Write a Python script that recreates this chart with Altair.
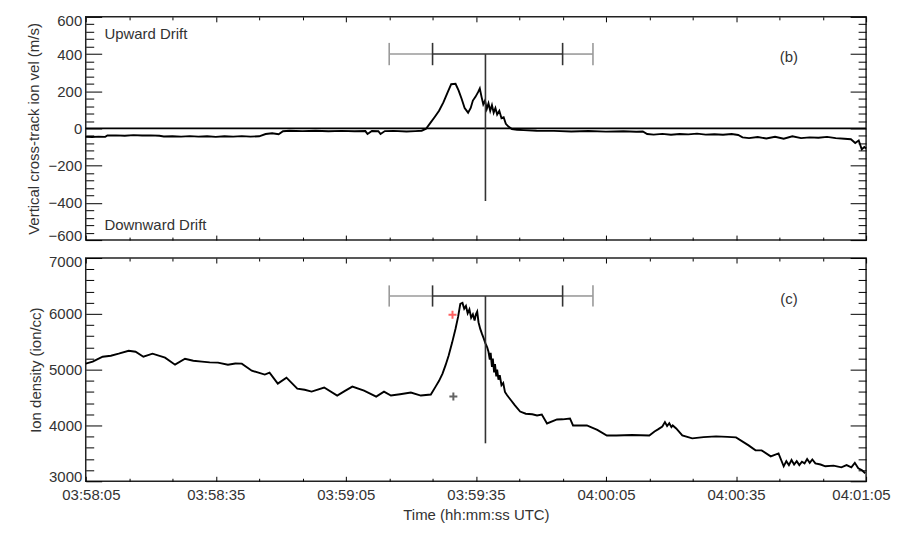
import altair as alt
import pandas as pd

# ---------------- axis tick positions / labels ----------------
x_major = [0, 30, 60, 90, 120, 150, 180]          # seconds after 03:58:05
x_labels = ["03:58:05", "03:58:35", "03:59:05", "03:59:35",
            "04:00:05", "04:00:35", "04:01:05"]
x_minor = [10, 20, 40, 50, 70, 80, 100, 110, 130, 140, 160, 170]

vel_major = [-600, -400, -200, 0, 200, 400, 600]
vel_minor = [-560, -520, -480, -440, -360, -320, -280, -240, -160, -120, -80, -40,
             40, 80, 120, 160, 240, 280, 320, 360, 440, 480, 520, 560]
den_major = [3000, 4000, 5000, 6000, 7000]
den_minor = [3200, 3400, 3600, 3800, 4200, 4400, 4600, 4800, 5200, 5400, 5600, 5800,
             6200, 6400, 6600, 6800]

# ---------------- panel (b): vertical cross-track ion velocity ----------------
vel_t = [0, 1.5, 3, 4.5, 5, 7, 9, 11, 13, 15, 17, 18, 20, 22, 24, 26, 28, 30, 32, 34,
         36, 38, 40, 41.5, 43, 44.5, 45.5, 47, 50, 53, 56, 59, 62, 64.5, 65, 66, 67.5,
         68, 69, 71, 74, 76, 77.5, 78.5, 79.5, 80.5, 81.5, 82.5, 83.5, 84.3, 85.3, 86,
         86.7, 87.4, 88.2, 88.8, 89.3, 89.9, 90.5, 90.9, 91.3, 91.7, 92.1, 92.5, 92.9,
         93.3, 93.7, 94.1, 94.5, 94.9, 95.4, 95.9, 96.4, 96.9, 97.5, 98.3, 99.5, 101,
         104, 108, 112, 116, 120, 124, 127, 128.5, 129.5, 131, 133, 135, 137, 139, 141,
         143, 145, 147, 149, 150.5, 151.5, 153, 155, 157, 159, 161, 163, 165, 167, 169,
         171, 173, 175, 176.5, 177.5, 178.3, 179, 179.6, 180]
vel_v = [-45, -46, -44, -45, -38, -37, -39, -36, -38, -37, -39, -43, -42, -44, -41, -44,
         -42, -45, -42, -44, -41, -44, -42, -30, -26, -31, -15, -12, -14, -12, -15, -13,
         -15, -14, -30, -14, -15, -30, -14, -13, -16, -14, -12, -2, 30, 62, 95, 140, 195,
         238, 240, 205, 160, 110, 85, 110, 150, 170, 195, 215, 170, 130, 150, 105, 135,
         95, 125, 85, 110, 75, 95, 55, 60, 25, 10, -3, -7, -9, -12, -13, -16, -14, -17,
         -15, -18, -16, -30, -33, -29, -34, -30, -32, -28, -33, -31, -34, -30, -35, -48,
         -52, -46, -54, -45, -55, -42, -52, -48, -50, -45, -52, -55, -58, -78, -65, -112,
         -100, -108]

# ---------------- panel (c): ion density ----------------
den_t = [0, 1.6, 3.9, 5.8, 7.6, 9.9, 11.5, 13.3, 15.4, 18.3, 20.6, 22.9, 24.8, 26.8,
         28.6, 30.5, 32.8, 34.5, 36.0, 38.3, 41.3, 42.4, 44.3, 46.3, 48.8, 50.5, 52.1,
         55.0, 58.0, 59.8, 61.5, 64.2, 67.0, 68.8, 70.4, 72.5, 75.0, 77.3, 79.6, 80.7,
         81.5, 82.3, 83.0, 83.7, 84.5, 85.3, 85.9, 86.4, 86.9, 87.3, 87.7, 88.1, 88.5,
         88.9, 89.3, 89.7, 90.0, 90.3, 90.6, 91.0, 91.4, 91.8, 92.2, 92.6, 92.9, 93.2,
         93.4, 93.7, 93.9, 94.2, 94.4, 94.7, 94.9, 95.2, 95.5, 95.9, 96.3, 96.7, 97.2,
         98.0, 99.0, 100.2, 101.5, 103.0, 104.1, 105.2, 106.4, 108.7, 110.0, 111.7,
         112.4, 115.6, 118.0, 120.2, 122.4, 126.0, 130.0, 131.2, 132.0, 133.0, 133.6,
         134.1, 134.6, 135.1, 135.4, 136.2, 137.6, 139.9, 142.5, 145.4, 148.0, 150.0,
         152.9, 154.5, 155.9, 158.0, 159.8, 161.0, 161.6, 162.2, 162.8, 163.4, 164.0,
         164.6, 165.2, 165.8, 166.4, 167.0, 167.6, 168.3, 169.5, 170.6, 172.5, 174.3,
         175.5, 176.6, 177.4, 178.2, 179.0, 179.8]
den_v = [5107, 5143, 5232, 5250, 5286, 5339, 5321, 5232, 5286, 5214, 5089, 5196, 5160,
         5143, 5130, 5125, 5089, 5110, 5107, 4982, 4911, 4946, 4750, 4857, 4661, 4640,
         4607, 4679, 4536, 4620, 4696, 4625, 4518, 4607, 4536, 4560, 4589, 4536, 4554,
         4696, 4800, 4929, 5080, 5250, 5480, 5732, 5950, 6179, 6196, 6090, 6140, 6010,
         6080, 5930, 5990, 5880, 5990, 6040, 5850, 5730, 5640, 5560, 5470, 5400, 5320,
         5180, 5300, 5050, 5200, 4950, 5100, 4880, 5000, 4820, 4900, 4720, 4760, 4600,
         4540, 4460, 4360, 4250, 4210, 4200, 4179, 4196, 4036, 4107, 4110, 4125, 4000,
         4000, 3920, 3821, 3821, 3830, 3821, 3893, 3930, 3982, 4060, 3990, 4040,
         3970, 4000, 3946, 3821, 3768, 3790, 3804, 3795, 3786,
         3643, 3554, 3554, 3446, 3500, 3268, 3360, 3290, 3380, 3300, 3360,
         3290, 3350, 3320, 3400, 3330, 3390, 3321, 3300, 3268, 3280, 3250,
         3290, 3250, 3330, 3232, 3200, 3143]

# ---------------- error-bar style markers (seconds / values) ----------------
bar_outer = [70, 117]
bar_inner = [80, 110]
bar_center = 92.2
vel_bar = {"y": 400, "bottom": -390, "cap": 60}
den_bar = {"y": 6320, "bottom": 3680, "cap": 190}

plus_t = [84.6, 84.8]
plus_v = [5982, 4518]
plus_color = ["#ff2020", "#222222"]

FONT = "Liberation Sans"
TXT = "#333333"
GRAY = "#9a9a9a"
DARK = "#333333"
PLOT_W = 783
PLOT_H = 224

x_label_expr = " : ".join(f"datum.value == {v} ? '{l}'" for v, l in zip(x_major, x_labels)) + " : ''"


def tick_axis(orient, values, size):
    return alt.Axis(orient=orient, values=values, tickSize=size, offset=-size,
                    labels=False, domain=False, grid=False, title=None,
                    ticks=True, tickColor="black", tickWidth=1)


def panel(main_df, yf, ydom, ymaj, ymin, ytitle, tpad, show_x, bar, texts, extra=None):
    xs = alt.Scale(domain=[0, 180], nice=False, zero=False)
    ys = alt.Scale(domain=ydom, nice=False, zero=False)
    if show_x:
        xaxis = alt.Axis(orient="bottom", values=x_major, labelExpr=x_label_expr,
                         ticks=False, tickSize=0, domain=False, grid=False,
                         labelFontSize=15, labelColor=TXT, labelPadding=6,
                         labelFlush=True, labelFlushOffset=24,
                         title="Time (hh:mm:ss UTC)", titleFontSize=15,
                         titleFontWeight="normal", titleColor=TXT, titlePadding=5)
    else:
        xaxis = None
    yaxis = alt.Axis(orient="left", values=ymaj, ticks=False, tickSize=0, domain=False,
                     grid=False, labelFontSize=15, labelColor=TXT, labelPadding=4,
                     format="d", labelFlush=True, labelFlushOffset=3,
                     title=ytitle, titleFontSize=15, titleFontWeight="normal",
                     titleColor=TXT, titlePadding=tpad)

    X = lambda f="t": alt.X(f"{f}:Q", scale=xs, axis=None)
    Y = lambda f=yf: alt.Y(f"{f}:Q", scale=ys, axis=None)

    base = alt.Chart(main_df)
    layers = []
    if extra is not None:
        layers.append(extra(X, Y))
    line = base.mark_line(color="black", strokeWidth=1.9).encode(
        x=alt.X("t:Q", scale=xs, axis=xaxis), y=alt.Y(f"{yf}:Q", scale=ys, axis=yaxis))
    layers.append(line)

    def carrier(xo, xv, xsz, yo, yv, ysz):
        return base.mark_point(opacity=0).encode(
            x=alt.X("t:Q", scale=xs, axis=tick_axis(xo, xv, xsz)),
            y=alt.Y(f"{yf}:Q", scale=ys, axis=tick_axis(yo, yv, ysz)))

    layers += [carrier("bottom", x_major, 5, "left", ymaj, 16),
               carrier("bottom", x_minor, 3, "left", ymin, 8),
               carrier("top", x_major, 5, "right", ymaj, 16),
               carrier("top", x_minor, 3, "right", ymin, 8)]

    # horizontal bars
    seg = pd.DataFrame({"t1": [bar_outer[0], bar_inner[0], bar_inner[1]],
                        "t2": [bar_inner[0], bar_inner[1], bar_outer[1]],
                        "y": [bar["y"]] * 3,
                        "c": [GRAY, DARK, GRAY]})
    layers.append(alt.Chart(seg).mark_rule(strokeWidth=1.6).encode(
        x=X("t1"), x2="t2", y=Y("y"), color=alt.Color("c:N", scale=None)))
    caps = pd.DataFrame({"t": [bar_outer[0], bar_inner[0], bar_inner[1], bar_outer[1]],
                         "y1": [bar["y"] - bar["cap"]] * 4,
                         "y2": [bar["y"] + bar["cap"]] * 4,
                         "c": [GRAY, DARK, DARK, GRAY]})
    layers.append(alt.Chart(caps).mark_rule(strokeWidth=1.6).encode(
        x=X("t"), y=Y("y1"), y2="y2", color=alt.Color("c:N", scale=None)))
    vert = pd.DataFrame({"t": [bar_center], "y1": [bar["y"]], "y2": [bar["bottom"]]})
    layers.append(alt.Chart(vert).mark_rule(strokeWidth=1.6, color=DARK).encode(
        x=X("t"), y=Y("y1"), y2="y2"))

    for (tt, vv, txt, al) in texts:
        tdf = pd.DataFrame({"t": [tt], "v": [vv], "s": [txt]})
        layers.append(alt.Chart(tdf).mark_text(align=al, baseline="middle", fontSize=15,
                                               color=TXT, font=FONT).encode(
            x=X("t"), y=Y("v"), text="s:N"))

    return alt.layer(*layers).resolve_axis(x="independent", y="independent").properties(
        width=PLOT_W, height=PLOT_H)


vel_df = pd.DataFrame({"t": vel_t, "v": vel_v})
den_df = pd.DataFrame({"t": den_t, "v": den_v})


def zero_line(X, Y):
    return alt.Chart(pd.DataFrame({"v": [0]})).mark_rule(color="black", strokeWidth=1.8).encode(
        y=Y("v"))


top = panel(vel_df, "v", [-600, 600], vel_major, vel_minor,
            "Vertical cross-track ion vel (m/s)", 7, False, vel_bar,
            [(4.3, 510, "Upward Drift", "left"), (4.3, -520, "Downward Drift", "left"),
             (162.2, 383, "(b)", "center")], extra=zero_line)

plus_df = pd.DataFrame({"t": plus_t, "v": plus_v, "c": plus_color})

bottom_core = panel(den_df, "v", [3000, 7000], den_major, den_minor,
                    "Ion density (ion/cc)", 5, True, den_bar,
                    [(162.2, 6260, "(c)", "center")])

plus_layer = alt.Chart(plus_df).mark_point(
    shape="M-1,0L1,0M0,-1L0,1", filled=False, size=64, strokeWidth=2).encode(
    x=alt.X("t:Q", scale=alt.Scale(domain=[0, 180], nice=False, zero=False), axis=None),
    y=alt.Y("v:Q", scale=alt.Scale(domain=[3000, 7000], nice=False, zero=False), axis=None),
    color=alt.Color("c:N", scale=None))

bottom = alt.layer(bottom_core, plus_layer).resolve_axis(x="independent", y="independent")

chart = alt.vconcat(top, bottom, spacing=18, bounds="flush").properties(
    padding={"left": 17, "top": 4, "right": 0, "bottom": 0}
).configure_axis(labelFont=FONT, titleFont=FONT).configure_text(font=FONT).configure_view(
    stroke="#222222", strokeWidth=1.5)

chart.save("out.html", embed_options={"renderer": "svg", "actions": False})
